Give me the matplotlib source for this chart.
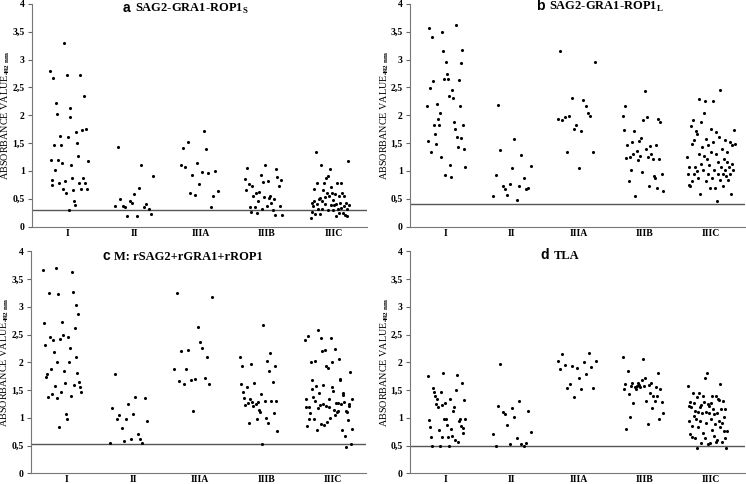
import numpy as np
import matplotlib.pyplot as plt

plt.rcParams['font.family'] = 'Liberation Serif'
plt.rcParams['font.weight'] = 'bold'
plt.rcParams['mathtext.fontset'] = 'custom'
plt.rcParams['mathtext.rm'] = 'Liberation Serif:bold'
plt.rcParams['mathtext.bf'] = 'Liberation Serif:bold'

groups = ['I', 'II', 'IIIA', 'IIIB', 'IIIC']

# panel a: SAG2-GRA1-ROP1 S (values listed left to right inside each group)
a_I = [2.80, 1.19, 0.83, 0.74, 2.67, 1.46, 1.02, 2.22, 2.02, 1.19, 0.79, 1.63, 1.47, 1.14,
       0.68, 3.29, 0.81, 0.60, 2.73, 1.60, 0.29, 1.96, 2.13, 1.11, 0.87, 0.65, 0.46, 0.38,
       1.70, 1.50, 1.26, 0.79, 2.72, 0.68, 1.74, 0.87, 2.34, 0.79, 1.75, 0.68, 1.18]
a_II = [0.36, 1.43, 0.50, 0.37, 0.35, 0.18, 0.46, 0.42, 0.59, 0.18, 0.70, 1.10, 0.35, 0.41,
        0.31, 0.22, 0.90]
a_IIIA = [1.10, 1.41, 1.07, 1.51, 0.60, 0.93, 0.57, 1.14, 0.77, 0.98, 1.72, 1.40, 0.96, 0.35,
          0.54, 0.99, 0.63]
a_IIIB = [0.86, 0.65, 1.05, 0.77, 0.35, 0.26, 0.72, 0.54, 0.35, 0.60, 0.25, 0.46, 0.62, 0.93,
          0.31, 0.80, 0.53, 1.10, 0.37, 0.81, 0.51, 0.55, 0.42, 0.30, 0.50, 0.20, 1.04, 0.89,
          0.73, 0.36, 0.83, 0.20]
a_IIIC = [0.16, 0.26, 0.42, 0.37, 0.67, 0.45, 0.22, 1.33, 0.79, 0.41, 0.31, 0.49, 0.22, 0.52,
          1.10, 0.32, 0.46, 0.66, 0.79, 0.53, 0.41, 0.87, 0.61, 0.30, 0.91, 0.54, 1.03, 0.71,
          0.39, 0.61, 0.48, 0.29, 0.38, 0.58, 0.18, 0.41, 0.78, 0.31, 0.54, 0.24, 0.43, 0.33,
          0.78, 0.60, 0.24, 0.37, 0.54, 0.21, 0.42, 0.31, 0.18, 1.17, 0.38]

# panel b: SAG2-GRA1-ROP1 L
b_I = [2.17, 1.53, 3.57, 2.49, 1.34, 3.40, 2.62, 1.82, 1.66, 1.48, 2.20, 1.93, 1.82, 2.04,
       1.25, 3.50, 3.16, 2.65, 0.92, 2.95, 2.74, 2.65, 2.35, 1.11, 0.89, 2.46, 2.30, 1.87,
       1.76, 3.62, 1.61, 1.43, 2.64, 2.17, 2.93, 1.59, 3.17, 1.82, 1.40, 1.07]
b_II = [0.54, 0.93, 2.18, 1.37, 0.72, 0.67, 0.56, 0.77, 1.05, 1.58, 0.47, 0.72, 1.28, 0.87,
        0.67, 0.70, 1.08]
b_IIIA = [1.94, 3.15, 1.91, 1.96, 1.34, 1.99, 2.31, 1.75, 1.83, 1.06, 1.72, 2.28, 2.16, 2.04,
          1.98, 1.34, 2.96]
b_IIIB = [1.98, 1.74, 2.16, 1.23, 1.46, 0.82, 1.25, 1.01, 1.52, 1.31, 1.71, 0.54, 1.36, 1.19,
          1.54, 1.27, 1.59, 0.98, 1.91, 2.43, 1.40, 1.96, 1.25, 0.73, 1.44, 1.30, 1.22, 0.91,
          0.88, 1.47, 0.70, 1.94, 1.21, 1.87, 0.95, 0.64]
b_IIIC = [1.24, 0.95, 0.75, 1.07, 0.72, 1.80, 1.49, 0.81, 1.92, 1.55, 0.95, 1.07, 1.71, 0.99,
          1.67, 0.87, 2.29, 1.31, 0.58, 1.13, 1.88, 1.43, 1.01, 2.04, 1.27, 2.26, 1.58, 0.81,
          1.22, 0.95, 1.46, 1.10, 0.69, 1.76, 1.34, 0.87, 2.25, 1.52, 1.01, 0.69, 1.70, 1.31,
          0.46, 0.95, 1.16, 1.61, 0.84, 2.45, 1.07, 1.40, 0.95, 0.72, 1.22, 1.55, 1.01, 0.90,
          1.16, 1.34, 0.84, 1.07, 1.52, 0.95, 0.58, 1.13, 1.46, 1.01, 1.74, 1.49]

# panel c: M: rSAG2+rGRA1+rROP1
c_I = [3.66, 2.71, 2.32, 1.73, 1.78, 1.37, 3.24, 2.46, 1.87, 1.43, 2.41, 2.18, 1.58, 3.70,
       2.00, 1.35, 3.23, 0.83, 2.42, 1.47, 2.73, 2.49, 1.84, 1.63, 1.07, 0.98, 2.45, 2.01,
       2.25, 1.39, 3.62, 3.27, 1.59, 2.62, 2.10, 3.04, 1.81, 2.87, 1.65, 1.55, 1.47]
c_II = [0.54, 1.18, 1.78, 0.97, 1.05, 0.82, 0.59, 0.98, 1.24, 0.62, 1.07, 1.38, 0.70, 0.62,
        0.54, 1.35, 0.95]
c_IIIA = [1.88, 3.24, 1.67, 2.21, 1.61, 1.88, 2.22, 1.68, 1.13, 1.69, 2.64, 2.37, 2.25, 1.72,
          2.09, 1.61, 3.17]
c_IIIB = [2.09, 1.60, 1.93, 1.47, 1.36, 1.23, 1.55, 1.26, 0.91, 1.33, 1.96, 1.29, 1.22, 1.62,
          1.25, 0.98, 1.29, 1.14, 1.10, 1.43, 0.53, 2.67, 1.30, 1.00, 2.03, 0.90, 1.84, 2.16,
          1.30, 1.65, 1.08, 1.94, 1.30, 0.76]
c_IIIC = [2.40, 1.33, 1.20, 0.85, 2.47, 1.20, 0.98, 1.08, 2.01, 1.68, 1.52, 1.37, 0.98, 2.02,
          1.30, 1.57, 0.78, 2.58, 1.18, 1.45, 1.23, 0.88, 2.43, 2.21, 1.59, 1.24, 0.87, 2.23,
          1.93, 1.21, 0.93, 1.90, 1.33, 1.20, 0.99, 2.44, 2.01, 1.56, 1.48, 1.14, 2.24, 1.05,
          1.27, 1.10, 1.26, 1.13, 2.05, 1.68, 1.70, 1.24, 0.78, 1.44, 1.41, 1.28, 0.68, 0.47,
          1.13, 1.10, 0.96, 1.22, 1.25, 1.82, 0.52, 1.33, 0.80]

# panel d: TLA
d_I = [1.75, 0.96, 0.84, 0.66, 0.50, 1.54, 1.46, 1.40, 1.25, 1.33, 1.20, 0.78, 0.50, 1.46,
       1.23, 0.66, 1.80, 0.98, 1.26, 0.98, 0.87, 0.66, 0.50, 1.33, 0.80, 0.67, 1.12, 1.20,
       0.60, 1.50, 1.77, 0.57, 0.95, 0.98, 0.85, 1.62, 0.72, 0.82, 1.32, 0.98]
d_II = [0.70, 0.50, 1.21, 1.97, 1.11, 1.06, 0.87, 0.52, 1.17, 1.02, 0.64, 1.31, 0.52, 0.49,
        0.54, 1.12, 0.75]
d_IIIA = [2.03, 1.88, 2.15, 1.95, 1.54, 1.60, 1.93, 1.37, 1.89, 1.72, 1.52, 2.00, 1.78, 2.16,
          1.92, 1.54, 2.02]
d_IIIB = [2.10, 1.51, 1.60, 0.80, 1.85, 1.43, 1.01, 1.57, 1.62, 1.26, 1.55, 1.51, 1.57, 1.62,
          1.59, 1.55, 1.68, 2.05, 1.58, 1.72, 1.31, 0.89, 1.59, 1.45, 1.62, 1.18, 1.40, 1.30,
          1.56, 1.39, 1.81, 0.97, 1.51, 1.28, 1.09]
d_IIIC = [1.57, 1.21, 0.94, 0.70, 1.29, 1.20, 0.85, 0.65, 1.45, 1.26, 1.03, 0.64, 1.12, 0.98,
          0.45, 1.38, 1.10, 0.83, 1.44, 1.20, 0.95, 0.55, 1.23, 1.08, 0.72, 1.40, 1.28, 0.63,
          1.72, 1.11, 0.90, 1.81, 1.25, 0.53, 1.22, 1.08, 0.55, 1.26, 0.98, 1.40, 0.78, 1.16,
          0.68, 1.06, 0.88, 0.56, 1.40, 1.08, 0.60, 1.33, 0.95, 1.32, 0.84, 1.61, 1.15, 0.56,
          0.90, 1.30, 1.02, 0.77, 1.16, 0.64, 0.45, 0.76]

cutoffs = [0.29, 0.40, 0.52, 0.50]
letters = ['a', 'b', 'c', 'd']
titles = [r'SAG2-GRA1-ROP1$_\mathbf{S}$', r'SAG2-GRA1-ROP1$_\mathbf{L}$',
          'M: rSAG2+rGRA1+rROP1', 'TLA']
panels = [[a_I, a_II, a_IIIA, a_IIIB, a_IIIC],
          [b_I, b_II, b_IIIA, b_IIIB, b_IIIC],
          [c_I, c_II, c_IIIA, c_IIIB, c_IIIC],
          [d_I, d_II, d_IIIA, d_IIIB, d_IIIC]]

# layout: axes boxes (figure fractions), title anchors, y-label x, scatter spread per group
boxes = [[0.0425, 0.532, 0.449, 0.460],
         [0.549, 0.532, 0.449, 0.460],
         [0.041, 0.022, 0.450, 0.459],
         [0.549, 0.022, 0.449, 0.459]]
title_pos = [(0.273, 0.964), (0.38, 0.973), (0.215, 0.961), (0.392, 0.965)]
ylabel_x = [-0.059, -0.056, -0.057, -0.056]
spread = [[(-0.27, 0.30), (-0.28, 0.29), (-0.30, 0.26), (-0.33, 0.23), (-0.34, 0.23)],
          [(-0.27, 0.30), (-0.28, 0.28), (-0.31, 0.25), (-0.33, 0.27), (-0.36, 0.35)],
          [(-0.35, 0.22), (-0.35, 0.21), (-0.38, 0.18), (-0.40, 0.16), (-0.42, 0.29)],
          [(-0.26, 0.30), (-0.28, 0.28), (-0.31, 0.26), (-0.33, 0.27), (-0.35, 0.23)]]

fig = plt.figure(figsize=(7.46, 4.84), dpi=100)

for k in range(4):
    ax = fig.add_axes(boxes[k])
    for i, vals in enumerate(panels[k]):
        lo, hi = spread[k][i]
        xs = (i + 1) + np.linspace(lo, hi, len(vals))
        ax.scatter(xs, vals, s=5, color='black', linewidths=0, zorder=3)
    ax.axhline(cutoffs[k], color='#555555', linewidth=1.0, zorder=2)

    ax.set_xlim(0.46, 5.5)
    ax.set_ylim(0, 4)
    ax.set_yticks(np.arange(0, 4.01, 0.5))
    ax.set_yticklabels(['0', '0,5', '1', '1,5', '2', '2,5', '3', '3,5', '4'])
    ax.set_xticks(range(1, 6))
    ax.set_xticklabels(groups)
    ax.tick_params(axis='x', length=0, pad=1.5, labelsize=7)
    ax.tick_params(axis='y', length=3, width=0.8, pad=2, labelsize=7, color='#666666')
    for side in ['top', 'right']:
        ax.spines[side].set_visible(False)
    for side in ['left', 'bottom']:
        ax.spines[side].set_color('#777777')
        ax.spines[side].set_linewidth(0.8)
    ax.set_ylabel(r'ABSORBANCE VALUE$_{\mathbf{492\ nm}}$', fontsize=7.3)
    ax.yaxis.set_label_coords(ylabel_x[k], 0.5)

    # title: sans letter followed by the serif antigen name, same baseline
    tx, ty = title_pos[k]
    t1 = ax.text(tx, ty, letters[k] + ' ', transform=ax.transAxes, ha='left', va='baseline',
                 fontsize=10, fontweight='bold', family='Liberation Sans')
    ax.annotate(titles[k], xy=(1, ty), xycoords=(t1, 'axes fraction'), ha='left',
                va='baseline', fontsize=9, fontweight='bold')

fig.savefig('out.png', dpi=100)
